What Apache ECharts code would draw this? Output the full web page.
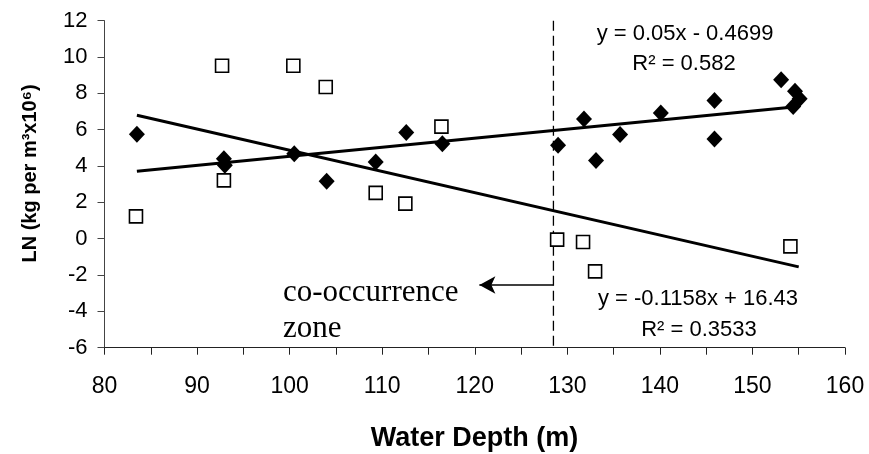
<!DOCTYPE html>
<html><head><meta charset="utf-8">
<script src="https://cdn.jsdelivr.net/npm/echarts@6/dist/echarts.min.js"></script>
<style>html,body{margin:0;padding:0;background:#fff}#c{width:869px;height:454px}</style>
</head><body><div id="c"></div>
<script>
// Filled diamonds
const depthA = [83.5, 92.9, 93.0, 100.5, 104.0, 109.3, 112.6, 116.5, 129.0, 131.8, 133.1, 135.7, 140.1, 145.9, 145.9, 153.1, 154.6, 155.1, 154.4];
const lnA    = [5.75, 4.40, 4.05, 4.68, 3.16, 4.22, 5.85, 5.23, 5.14, 6.59, 4.31, 5.73, 6.92, 7.61, 5.49, 8.75, 8.11, 7.71, 7.28];
// Open squares
const depthB = [83.4, 92.7, 92.9, 100.4, 103.9, 109.3, 112.5, 116.4, 128.9, 131.7, 133.0, 154.1];
const lnB    = [1.23, 9.52, 3.21, 9.52, 8.35, 2.52, 1.93, 6.17, -0.05, -0.18, -1.80, -0.42];
// Trend line end points
const trendAx = [83.5, 155.0], trendAy = [3.71, 7.28];
const trendBx = [83.5, 155.0], trendBy = [6.80, -1.55];
// Co-occurrence cut-off and arrow
const cutX = [128.5, 128.5], cutY = [12, -6];
const arrowX = [128.5, 120.5], arrowY = [-2.55, -2.55];
// Axes
const xMin = 80, xMax = 160, xStep = 10;
const yMin = -6, yMax = 12, yStep = 2;

const zip = (a, b) => a.map((v, i) => [v, b[i]]);
const chart = echarts.init(document.getElementById('c'));
const sans = "'Liberation Sans', Arial, sans-serif";
chart.setOption({
  animation: false,
  backgroundColor: '#fff',
  grid: { left: 104.5, right: 24, top: 20.7, bottom: 106.3 },
  xAxis: {
    type: 'value', min: xMin, max: xMax, interval: xStep,
    axisLine: { show: true, onZero: false, lineStyle: { color: '#222', width: 1 } },
    axisTick: { show: true, length: 7, lineStyle: { color: '#222' } },
    minorTick: { show: true, splitNumber: 2, length: 7, lineStyle: { color: '#222' } },
    splitLine: { show: false },
    axisLabel: { color: '#000', fontSize: 23, fontFamily: sans, margin: 27 }
  },
  yAxis: {
    type: 'value', min: yMin, max: yMax, interval: yStep,
    axisLine: { show: true, onZero: false, lineStyle: { color: '#444', width: 1 } },
    axisTick: { show: true, length: 7, lineStyle: { color: '#444' } },
    splitLine: { show: false },
    axisLabel: { color: '#000', fontSize: 22, fontFamily: sans, margin: 17 }
  },
  graphic: [
    { type: 'text', x: 30, y: 173.5, rotation: Math.PI / 2,
      style: { text: 'LN (kg per m³x10⁶)', font: "bold 20px " + sans, fill: '#000', align: 'center', verticalAlign: 'middle' } },
    { type: 'text', x: 474.5, y: 439,
      style: { text: 'Water Depth (m)', font: "bold 27px " + sans, fill: '#000', align: 'center', verticalAlign: 'middle' } },
    { type: 'text', x: 685, y: 34,
      style: { text: 'y = 0.05x - 0.4699', font: "22px " + sans, fill: '#000', align: 'center', verticalAlign: 'middle' } },
    { type: 'text', x: 684, y: 64,
      style: { text: 'R² = 0.582', font: "22px " + sans, fill: '#000', align: 'center', verticalAlign: 'middle' } },
    { type: 'text', x: 698, y: 299,
      style: { text: 'y = -0.1158x + 16.43', font: "22px " + sans, fill: '#000', align: 'center', verticalAlign: 'middle' } },
    { type: 'text', x: 699, y: 330,
      style: { text: 'R² = 0.3533', font: "22px " + sans, fill: '#000', align: 'center', verticalAlign: 'middle' } },
    { type: 'text', x: 283, y: 277,
      style: { text: 'co-occurrence', font: "31px 'Liberation Serif', 'Times New Roman', serif", fill: '#000', align: 'left', verticalAlign: 'alphabetic' } },
    { type: 'text', x: 283, y: 313,
      style: { text: 'zone', font: "31px 'Liberation Serif', 'Times New Roman', serif", fill: '#000', align: 'left', verticalAlign: 'alphabetic' } }
  ],
  series: [
    { type: 'line', data: zip(cutX, cutY), symbol: 'none', silent: true,
      lineStyle: { color: '#000', width: 1.3, type: [10, 5] }, z: 1,
      markLine: { silent: true, symbol: ['none', 'arrow'], symbolSize: [13, 16], label: { show: false },
        lineStyle: { color: '#000', width: 1.5, type: 'solid' },
        data: [[{ coord: [arrowX[0], arrowY[0]] }, { coord: [arrowX[1], arrowY[1]] }]] } },
    { type: 'line', data: zip(trendAx, trendAy), symbol: 'none', lineStyle: { color: '#000', width: 3 }, z: 2 },
    { type: 'line', data: zip(trendBx, trendBy), symbol: 'none', lineStyle: { color: '#000', width: 3 }, z: 2 },
    { type: 'scatter', data: zip(depthB, lnB), symbol: 'rect', symbolSize: 13,
      itemStyle: { color: '#fff', borderColor: '#000', borderWidth: 1.6, opacity: 1 }, z: 3 },
    { type: 'scatter', data: zip(depthA, lnA), symbol: 'diamond', symbolSize: [16, 17],
      itemStyle: { color: '#000', opacity: 1 }, z: 4 }
  ]
});
</script></body></html>
